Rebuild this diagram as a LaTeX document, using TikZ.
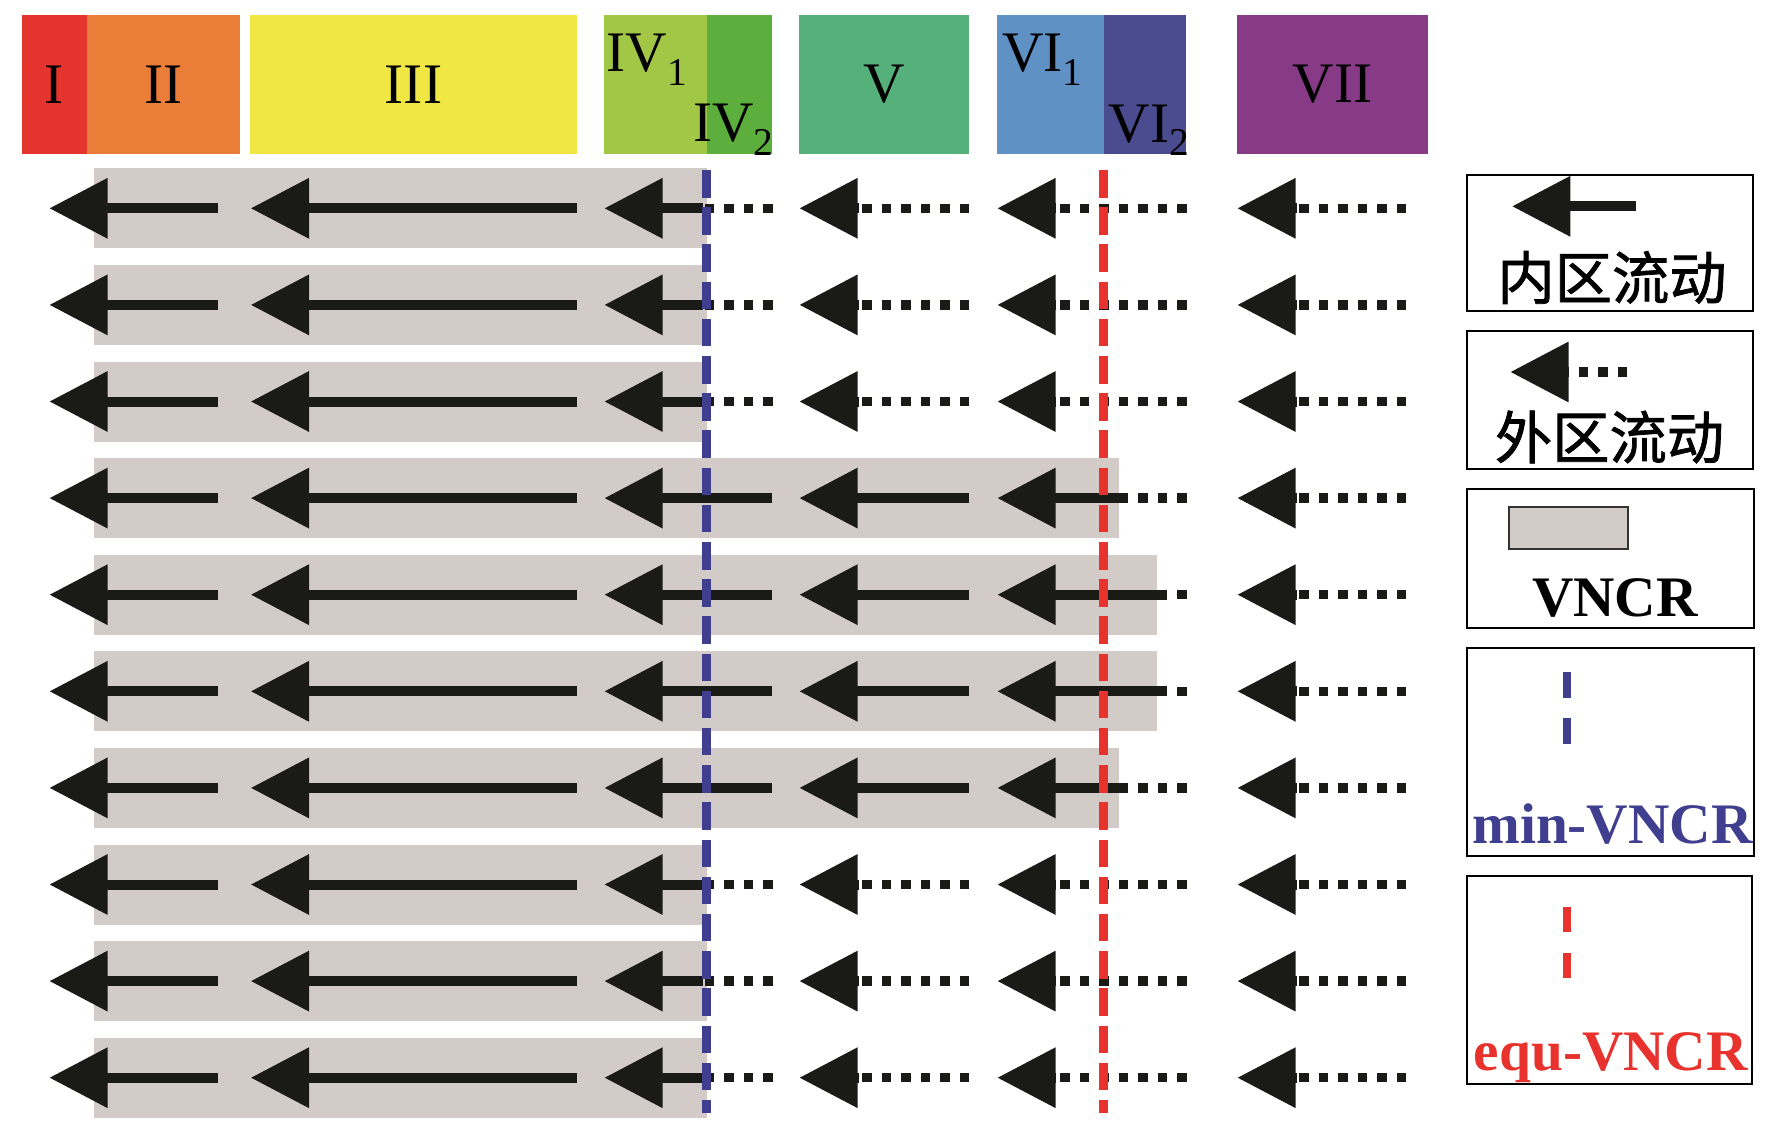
\documentclass[tikz,border=0pt]{standalone}
\usepackage{fontspec}
\setmainfont{Liberation Serif}
\newfontfamily\cjk{Noto Sans CJK SC}[FakeBold=1.3]
\usetikzlibrary{arrows.meta,positioning}

\definecolor{zoneI}{RGB}{229,51,46}
\definecolor{zoneII}{RGB}{234,126,56}
\definecolor{zoneIII}{RGB}{240,231,68}
\definecolor{zoneIVa}{RGB}{162,198,69}
\definecolor{zoneIVb}{RGB}{92,174,61}
\definecolor{zoneV}{RGB}{86,176,121}
\definecolor{zoneVIa}{RGB}{96,145,197}
\definecolor{zoneVIb}{RGB}{75,75,143}
\definecolor{zoneVII}{RGB}{135,58,134}
\definecolor{vncrgray}{RGB}{211,203,199}
\definecolor{minblue}{RGB}{64,63,143}
\definecolor{equred}{RGB}{232,50,45}
\definecolor{flowblack}{RGB}{26,26,22}

\newcommand{\lowidx}[1]{\raisebox{-0.133cm}{\fontsize{11.2}{12}\selectfont #1}}

\begin{document}
\begin{tikzpicture}[y=-1cm,
  every node/.style={font=\fontsize{16.3}{18}\selectfont, inner sep=0pt},
  boldlabel/.style={font=\fontsize{16.3}{18}\selectfont\bfseries},
  bar/.style={minimum height=1.387cm, anchor=center},
  band/.style={fill=vncrgray},
  flow/.style={line width=0.1cm, draw=flowblack, -{Triangle[length=0.583cm,width=0.58cm]}},
  outer/.style={line width=0.093cm, draw=flowblack, dash pattern=on 0.093cm off 0.102cm},
  minline/.style={line width=0.087cm, draw=minblue, dash pattern=on 0.275cm off 0.097cm},
  equline/.style={line width=0.09cm, draw=equred, dash pattern=on 0.275cm off 0.097cm},
  legendbox/.style={draw=black, line width=0.02cm}]
  \useasboundingbox (0,0) rectangle (17.72,11.37);

  % Zones (top)
  \node[bar, fill=zoneI, minimum width=0.647cm] (zI) at (0.5435,0.8435) {I};
  \node[bar, fill=zoneII, minimum width=1.533cm] (zII) at (1.6335,0.8435) {II};
  \node[bar, fill=zoneIII, minimum width=3.264cm] (zIII) at (4.135,0.8435) {III};
  \fill[zoneIVa] (6.043,0.15) rectangle (7.073,1.537);
  \fill[zoneIVb] (7.073,0.15) rectangle (7.72,1.537);
  \node[anchor=base west] (zIVa) at (6.06,0.717) {IV\lowidx{1}};
  \node[anchor=base west] (zIVb) at (6.927,1.417) {IV\lowidx{2}};
  \node[bar, fill=zoneV, minimum width=1.697cm] (zV) at (8.8415,0.8435) {V};
  \fill[zoneVIa] (9.967,0.15) rectangle (11.037,1.537);
  \fill[zoneVIb] (11.037,0.15) rectangle (11.863,1.537);
  \node[anchor=base west] (zVIa) at (10.017,0.717) {VI\lowidx{1}};
  \node[anchor=base west] (zVIb) at (11.08,1.42) {VI\lowidx{2}};
  \node[bar, fill=zoneVII, minimum width=1.913cm] (zVII) at (13.3265,0.8435) {VII};

  % VNCR bands
  \foreach \y in {2.083,3.049,4.015,8.845,9.811,10.777}
    \fill[band] (0.943,\y-0.40) rectangle (7.067,\y+0.40);
  \foreach \y in {4.981,7.879}
    \fill[band] (0.943,\y-0.40) rectangle (11.187,\y+0.40);
  \foreach \y in {5.947,6.913}
    \fill[band] (0.943,\y-0.40) rectangle (11.573,\y+0.40);

  % Flow in every row
  \foreach \y in {2.083,3.049,4.015,4.981,5.947,6.913,7.879,8.845,9.811,10.777} {
    \draw[flow] (2.177,\y) -- (0.493,\y);
    \draw[flow] (5.767,\y) -- (2.507,\y);
    \draw[outer] (11.867,\y) -- (10.55,\y);
    \draw[outer] (14.06,\y) -- (12.957,\y);
    \draw[flow] (12.967,\y) -- (12.373,\y);
  }

  % Outer rows: flow stops at min-VNCR
  \foreach \y in {2.083,3.049,4.015,8.845,9.811,10.777} {
    \draw[outer] (7.727,\y) -- (7.03,\y);
    \draw[flow] (7.03,\y) -- (6.043,\y);
    \draw[outer] (9.69,\y) -- (8.583,\y);
    \draw[flow] (8.593,\y) -- (7.993,\y);
    \draw[flow] (10.56,\y) -- (9.973,\y);
  }

  % Middle rows: flow reaches zone VI
  \foreach \y/\vend in {4.981/11.282,5.947/11.672,6.913/11.672,7.879/11.282} {
    \draw[flow] (7.72,\y) -- (6.043,\y);
    \draw[flow] (9.69,\y) -- (7.993,\y);
    \draw[flow] (\vend,\y) -- (9.973,\y);
  }

  % min-VNCR and equ-VNCR
  \draw[minline] (7.067,1.70) -- (7.067,11.13);
  \draw[equline] (11.033,1.70) -- (11.033,11.13);

  % Legend
  \draw[legendbox] (14.67,1.75) rectangle (17.527,3.11);
  \draw[flow] (16.36,2.063) -- (15.12,2.063);
  \node (innerlbl) at (16.12,2.775) {\cjk 内区流动};

  \draw[legendbox] (14.67,3.31) rectangle (17.527,4.693);
  \draw[outer] (16.27,3.72) -- (15.68,3.72);
  \draw[flow] (15.693,3.72) -- (15.103,3.72);
  \node (outerlbl) at (16.095,4.37) {\cjk 外区流动};

  \draw[legendbox] (14.67,4.893) rectangle (17.543,6.283);
  \draw[band, draw=black!80, line width=0.02cm] (15.087,5.067) rectangle (16.277,5.49);
  \node[boldlabel, anchor=base] (vncrlbl) at (16.15,6.16) {VNCR};

  \draw[legendbox] (14.67,6.483) rectangle (17.543,8.557);
  \draw[minline, line width=0.08cm, dash pattern=on 0.26cm off 0.2cm] (15.67,6.717) -- (15.67,7.437);
  \node[boldlabel, anchor=base, text=minblue] (minlbl) at (16.124,8.43) {min-VNCR};

  \draw[legendbox] (14.67,8.763) rectangle (17.52,10.837);
  \draw[equline, line width=0.08cm, dash pattern=on 0.25cm off 0.21cm] (15.67,9.067) -- (15.67,9.80);
  \node[boldlabel, anchor=base, text=equred] (equlbl) at (16.107,10.703) {equ-VNCR};

\end{tikzpicture}
\end{document}
